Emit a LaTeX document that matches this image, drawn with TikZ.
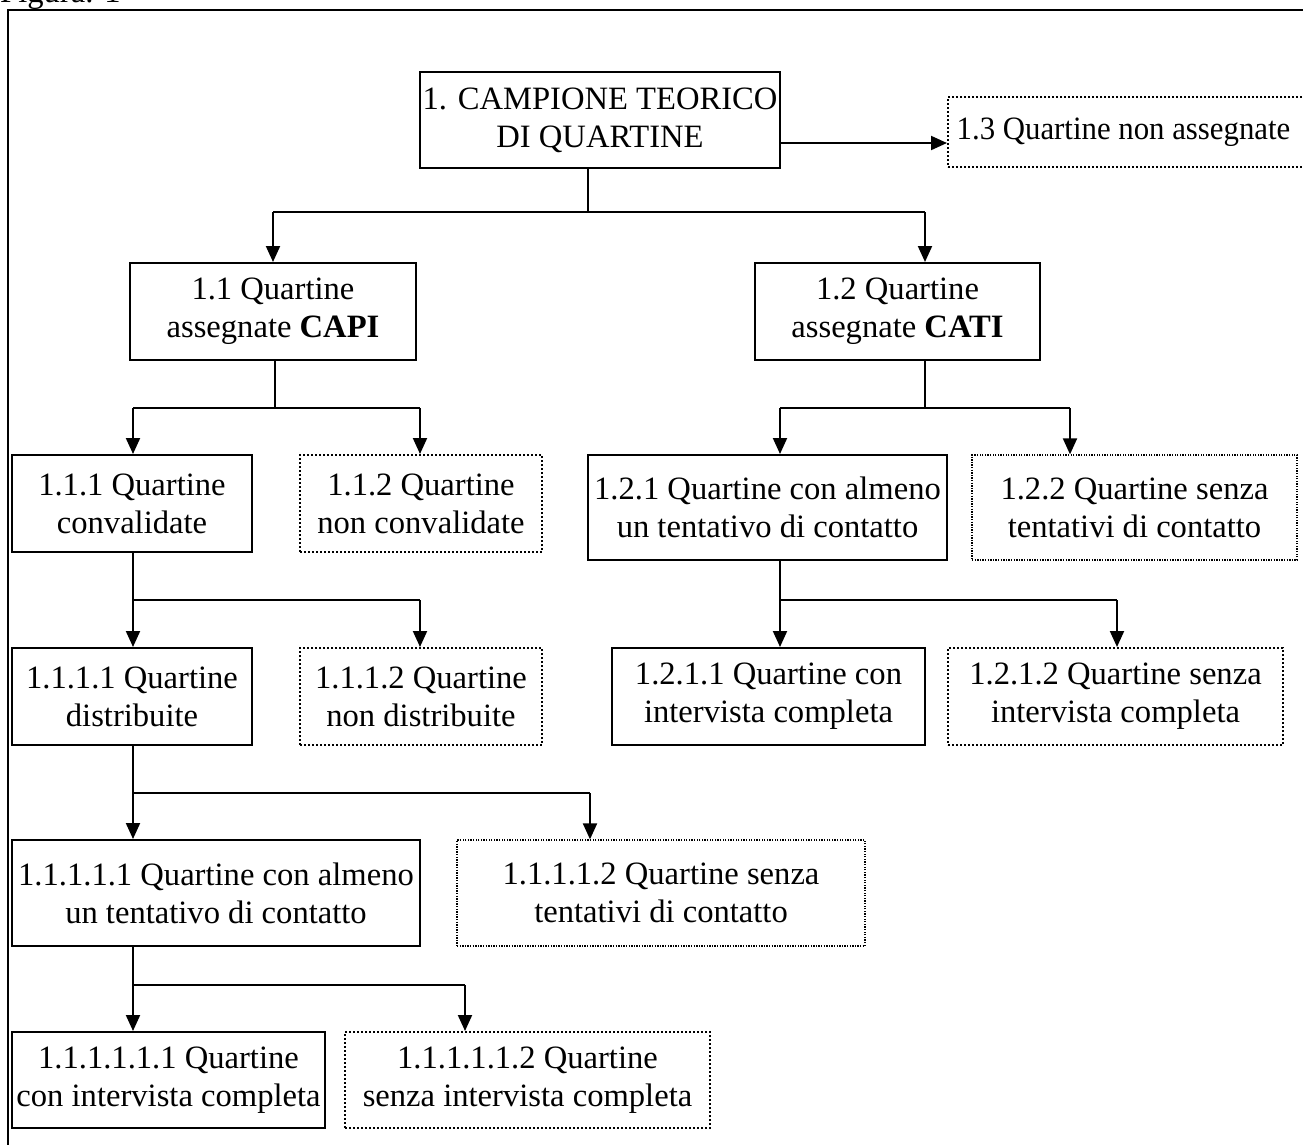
\documentclass[tikz,border=0pt]{standalone}
\usepackage{fontspec}
\usepackage{graphicx}
\setmainfont{Liberation Serif}
\usetikzlibrary{arrows.meta}
\begin{document}
\begin{tikzpicture}[x=1pt,y=-1pt,
  ln/.style={line width=2pt},
  arr/.style={line width=2pt,-{Triangle[length=16pt,width=14pt]}},
  box/.style={draw,line width=2pt,inner sep=0pt,align=center,font=\fontsize{32.6}{38}\selectfont},
  dbox/.style={box,dash pattern=on 2pt off 2pt},
  fbox/.style={box,line width=1.3pt,dash pattern=on 1.3pt off 1.3pt},
]
\useasboundingbox (0,0) rectangle (1303,1144);
% caption and frame
\node[anchor=base west,inner sep=0pt,font=\fontsize{32.6}{38}\selectfont] (fig) at (0,2) {Figura. 1};
\coordinate (frTR) at (1310,10);
\coordinate (frTL) at (8,10);
\coordinate (frBL) at (8,1150);
\draw[line width=2.5pt] (frTR) -- (frTL) -- (frBL);

% nodes
\node[box,minimum width=360,minimum height=96] (n1) at (600,120) {1. CAMPIONE TEORICO\\DI QUARTINE};
\node[dbox,minimum width=372,minimum height=70] (n13) at (1134,132) {\hspace*{-21pt}\scalebox{0.945}[1]{1.3 Quartine non assegnate}};
\node[box,minimum width=286,minimum height=97] (n11) at (273,311.5) {1.1 Quartine\\assegnate \textbf{CAPI}};
\node[box,minimum width=285,minimum height=97] (n12) at (897.5,311.5) {1.2 Quartine\\assegnate \textbf{CATI}};
\node[box,minimum width=240,minimum height=97] (n111) at (132,503.5) {1.1.1 Quartine\\convalidate};
\node[dbox,minimum width=242,minimum height=97] (n112) at (421,503.5) {1.1.2 Quartine\\non convalidate};
\node[box,minimum width=359,minimum height=105] (n121) at (767.5,507.5) {1.2.1 Quartine con almeno\\un tentativo di contatto};
\node[fbox,minimum width=325,minimum height=105] (n122) at (1134.5,507.5) {1.2.2 Quartine senza\\tentativi di contatto};
\node[box,minimum width=240,minimum height=97] (n1111) at (132,696.5) {1.1.1.1 Quartine\\distribuite};
\node[dbox,minimum width=242,minimum height=97] (n1112) at (421,696.5) {1.1.1.2 Quartine\\non distribuite};
\node[box,minimum width=313,minimum height=97] (n1211) at (768.5,696.5) {1.2.1.1 Quartine con\\intervista completa};
\node[dbox,minimum width=335,minimum height=97] (n1212) at (1115.5,696.5) {1.2.1.2 Quartine senza\\intervista completa};
\node[box,minimum width=408,minimum height=106] (n11111) at (216,893) {1.1.1.1.1 Quartine con almeno\\un tentativo di contatto};
\node[fbox,minimum width=408,minimum height=106] (n11112) at (661,893) {1.1.1.1.2 Quartine senza\\tentativi di contatto};
\node[box,minimum width=313,minimum height=96] (n111111) at (168.5,1080) {1.1.1.1.1.1 Quartine\\con intervista completa};
\node[dbox,minimum width=365,minimum height=96] (n111112) at (527.5,1080) {1.1.1.1.1.2 Quartine\\senza intervista completa};

% connectors: level 1
\coordinate (a0) at (588,212);
\coordinate (aL) at (273,212);
\coordinate (aR) at (925,212);
\draw[ln] (a0 |- n1.south) -- (a0);
\draw[ln] (aL) -- (aR);
\draw[arr] (aL) -- (aL |- n11.north);
\draw[arr] (aR) -- (aR |- n12.north);
\coordinate (e0) at (780,143);
\draw[arr] (e0) -- (e0 -| n13.west);

% from 1.1
\coordinate (b0) at (275,408);
\coordinate (bL) at (133,408);
\coordinate (bR) at (420,408);
\draw[ln] (b0 |- n11.south) -- (b0);
\draw[ln] (bL) -- (bR);
\draw[arr] (bL) -- (bL |- n111.north);
\draw[arr] (bR) -- (bR |- n112.north);

% from 1.2
\coordinate (c0) at (925,408);
\coordinate (cL) at (780,408);
\coordinate (cR) at (1070,408);
\draw[ln] (c0 |- n12.south) -- (c0);
\draw[ln] (cL) -- (cR);
\draw[arr] (cL) -- (cL |- n121.north);
\draw[arr] (cR) -- (cR |- n122.north);

% from 1.1.1
\coordinate (d0) at (133,600);
\coordinate (dR) at (420,600);
\draw[ln] (d0 |- n111.south) -- (d0) -- (dR);
\draw[arr] (d0) -- (d0 |- n1111.north);
\draw[arr] (dR) -- (dR |- n1112.north);

% from 1.2.1
\coordinate (f0) at (780,600);
\coordinate (fR) at (1117,600);
\draw[ln] (f0 |- n121.south) -- (f0) -- (fR);
\draw[arr] (f0) -- (f0 |- n1211.north);
\draw[arr] (fR) -- (fR |- n1212.north);

% from 1.1.1.1
\coordinate (g0) at (133,793);
\coordinate (gR) at (590,793);
\draw[ln] (g0 |- n1111.south) -- (g0) -- (gR);
\draw[arr] (g0) -- (g0 |- n11111.north);
\draw[arr] (gR) -- (gR |- n11112.north);

% from 1.1.1.1.1
\coordinate (h0) at (133,985);
\coordinate (hR) at (465,985);
\draw[ln] (h0 |- n11111.south) -- (h0) -- (hR);
\draw[arr] (h0) -- (h0 |- n111111.north);
\draw[arr] (hR) -- (hR |- n111112.north);
\end{tikzpicture}
\end{document}
